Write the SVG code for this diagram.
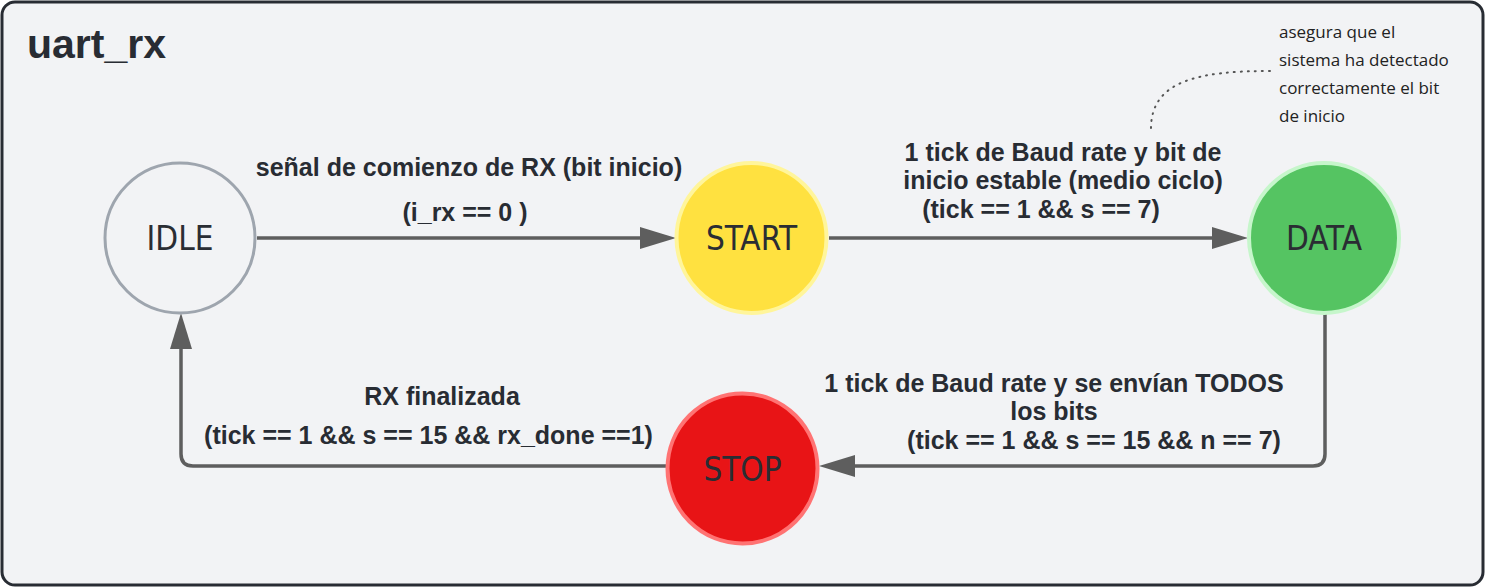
<svg xmlns="http://www.w3.org/2000/svg" width="1485" height="587" viewBox="0 0 1485 587">
<defs>
<style>
.lbl{font-family:"Liberation Sans",Arial,sans-serif;font-weight:bold;font-size:25px;fill:#282c33;text-anchor:middle}
.st{font-family:"Liberation Sans Narrow","DejaVu Sans Condensed","Liberation Sans",sans-serif;font-size:33px;fill:#2a2d33;text-anchor:middle}
.note{font-family:"Open Sans","Liberation Sans",sans-serif;font-size:17px;fill:#222}
.con{fill:none;stroke:#5e5e5e;stroke-width:3.5}
</style>
<marker id="arr" markerUnits="userSpaceOnUse" markerWidth="37" markerHeight="24" refX="0" refY="12" orient="auto">
<path d="M0,1 L36,12 L0,23 z" fill="#5e5e5e"/>
</marker>
</defs>
<rect x="2" y="2" width="1481" height="583" rx="13" fill="#f2f3f5" stroke="#282c33" stroke-width="3"/>
<text x="27" y="58" font-family="Liberation Sans,Arial,sans-serif" font-weight="bold" font-size="41" fill="#282c33">uart_rx</text>
<g id="connectors">
<path class="con" d="M257,238 H640" marker-end="url(#arr)"/>
<path class="con" d="M829,238 H1212" marker-end="url(#arr)"/>
<path class="con" d="M1325,314 V454 Q1325,466 1313,466 H855" marker-end="url(#arr)"/>
<path class="con" d="M666,466 H193 Q181,466 181,454 V349" marker-end="url(#arr)"/>
<path d="M1270,71 C1200,71 1150,80 1151,130" fill="none" stroke="#555" stroke-width="2" stroke-dasharray="1 6" stroke-linecap="round"/>
</g>
<g id="idle">
<circle cx="180" cy="238" r="75" fill="#f2f3f5" stroke="#9ea5ae" stroke-width="3"/>
<text class="st" x="180" y="250">IDLE</text>
</g>
<g id="start">
<circle cx="751.5" cy="238" r="75" fill="#ffe140" stroke="#fff59b" stroke-width="4"/>
<text class="st" x="751.5" y="250">START</text>
</g>
<g id="data">
<circle cx="1324" cy="238" r="75" fill="#55c462" stroke="#c6f6cb" stroke-width="4"/>
<text class="st" x="1324" y="250">DATA</text>
</g>
<g id="stop">
<circle cx="742.5" cy="468.5" r="75" fill="#e81416" stroke="#ff7373" stroke-width="4"/>
<text class="st" x="742.5" y="481">STOP</text>
</g>
<g id="labels">
<text class="lbl" x="469" y="176">señal de comienzo de RX (bit inicio)</text>
<text class="lbl" x="465" y="221">(i_rx == 0 )</text>
<text class="lbl" x="1063" y="161">1 tick de Baud rate y bit de</text>
<text class="lbl" x="1063" y="189">inicio estable (medio ciclo)</text>
<text class="lbl" x="1041" y="218">(tick == 1 &amp;&amp; s == 7)</text>
<text class="lbl" x="442" y="405">RX finalizada</text>
<text class="lbl" x="428.5" y="444">(tick == 1 &amp;&amp; s == 15 &amp;&amp; rx_done ==1)</text>
<text class="lbl" x="1054" y="392">1 tick de Baud rate y se envían TODOS</text>
<text class="lbl" x="1054" y="420">los bits</text>
<text class="lbl" x="1094" y="449">(tick == 1 &amp;&amp; s == 15 &amp;&amp; n == 7)</text>
</g>
<g id="note">
<text class="note" x="1279" y="38">asegura que el</text>
<text class="note" x="1279" y="66">sistema ha detectado</text>
<text class="note" x="1279" y="94">correctamente el bit</text>
<text class="note" x="1279" y="122">de inicio</text>
</g>
</svg>
